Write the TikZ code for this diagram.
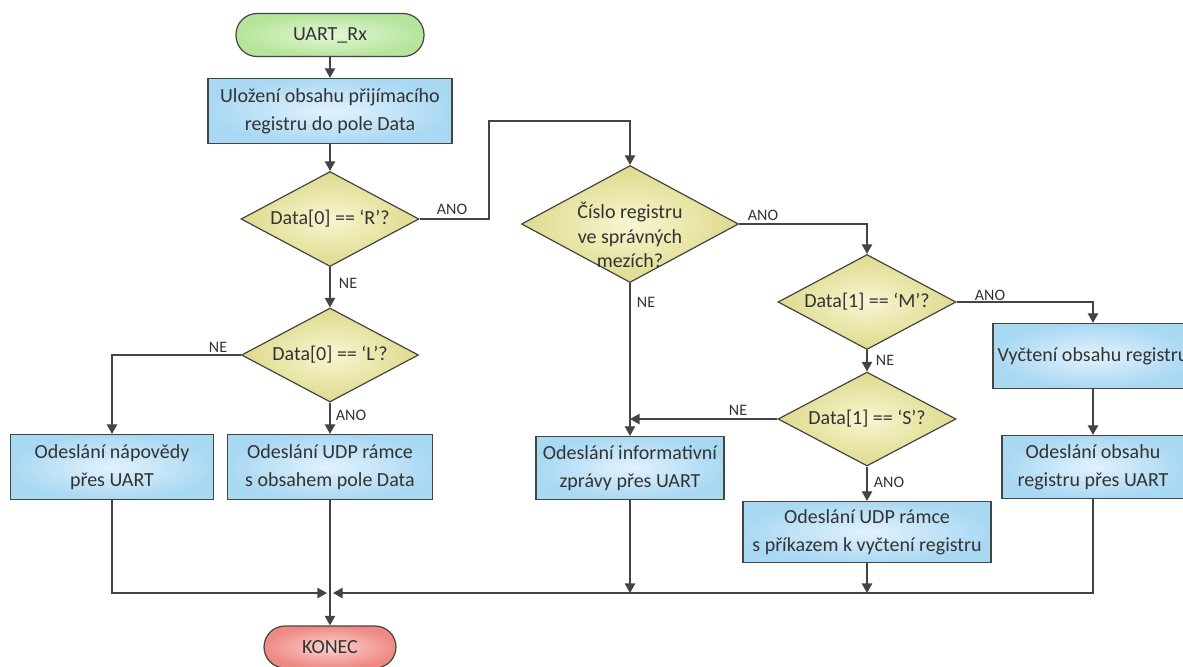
\documentclass[tikz,border=0pt]{standalone}
\usepackage{fontspec}
\setmainfont{Carlito}
\usetikzlibrary{shapes.geometric,arrows.meta}

\definecolor{ink}{HTML}{333333}
\definecolor{edge}{HTML}{444444}
\definecolor{blueIn}{HTML}{E2F2FC}
\definecolor{blueOut}{HTML}{A9D8F3}
\definecolor{yelIn}{HTML}{F8F6D2}
\definecolor{yelOut}{HTML}{DEDA8C}
\definecolor{grnIn}{HTML}{E4F7D6}
\definecolor{grnOut}{HTML}{B5E49A}
\definecolor{redIn}{HTML}{FBD3CF}
\definecolor{redOut}{HTML}{EF8984}

\tikzset{
  base/.style={draw=edge, line width=0.6pt, text=ink, align=center, inner sep=0pt,
               font=\fontsize{10}{14}\selectfont},
  procbox/.style={base, rectangle, shading=radial, inner color=blueIn, outer color=blueOut},
  decision/.style={base, diamond, aspect=1.85, shading=radial, inner color=yelIn, outer color=yelOut},
  terminal/.style={base, rectangle, rounded corners=10.5pt},
  flow/.style={draw=edge, line width=0.65pt, -{Triangle[length=4.8pt,width=5.2pt]}},
  lbl/.style={text=ink, inner sep=0pt, font=\fontsize{8}{9}\selectfont},
  plaintext/.style={text=ink, align=center, inner sep=0pt, font=\fontsize{10}{12.3}\selectfont},
}

\begin{document}
\begin{tikzpicture}[x=0.5pt, y=-0.5pt]
\useasboundingbox (0,0) rectangle (1183,666);

% terminals
\node[terminal, shading=radial, inner color=grnIn, outer color=grnOut,
      minimum width=94pt, minimum height=21.5pt] (start) at (330,35) {UART\_Rx};
\node[terminal, shading=radial, inner color=redIn, outer color=redOut,
      minimum width=66pt, minimum height=21pt] (konec) at (330,647) {KONEC};

% left column
\node[procbox, minimum width=122pt, minimum height=32.5pt] (store) at (330,111)
  {Uložení obsahu přijímacího\\registru do pole Data};
\node[decision, minimum width=89pt, minimum height=47.5pt] (isR) at (330,219) {Data[0] == ‘R’?};
\node[decision, minimum width=88.5pt, minimum height=47pt] (isL) at (330,355) {Data[0] == ‘L’?};
\node[procbox, minimum width=101.5pt, minimum height=32.5pt] (help) at (112,467)
  {Odeslání nápovědy\\přes UART};
\node[procbox, minimum width=102.5pt, minimum height=32.5pt] (udpData) at (330,467)
  {Odeslání UDP rámce\\s obsahem pole Data};

% middle column: the range test sits a little low in its diamond
\node[decision, minimum width=108.5pt, minimum height=58.5pt] (range) at (630,224) {};
\node[plaintext] (rangeText) at (630,235) {Číslo registru\\ve správných\\mezích?};
\node[procbox, minimum width=94pt, minimum height=31.5pt] (info) at (630,468)
  {Odeslání informativní\\zprávy přes UART};

% right columns
\node[decision, minimum width=89pt, minimum height=47.5pt] (isM) at (867,302) {Data[1] == ‘M’?};
\node[decision, minimum width=89pt, minimum height=47pt] (isS) at (867,419) {Data[1] == ‘S’?};
\node[procbox, minimum width=124pt, minimum height=30.5pt] (udpCmd) at (867,532)
  {Odeslání UDP rámce\\s příkazem k vyčtení registru};
\node[procbox, minimum width=100pt, minimum height=32.5pt] (readReg) at (1093,356)
  {Vyčtení obsahu registru};
\node[procbox, minimum width=91pt, minimum height=31.5pt] (sendReg) at (1093,467)
  {Odeslání obsahu\\registru přes UART};

% routing points
\coordinate (riseR) at (489,121);
\coordinate (joinS) at (630,419);
\coordinate (mergeL) at (327,593);
\coordinate (mergeR) at (333,593);
\coordinate (mergeInfo) at (630,593);
\coordinate (mergeCmd) at (867,593);

% connectors
\draw[flow] (start) -- (store);
\draw[flow] (store) -- (isR);
\draw[flow] (isR.east) -| (riseR) -| (range.north);
\draw[flow] (isR) -- (isL);
\draw[flow] (isL.west) -| (help.north);
\draw[flow] (isL) -- (udpData);
\draw[flow] (range.south) -- (info.north);
\draw[flow] (range.east) -| (isM.north);
\draw[flow] (isM.east) -| (readReg.north);
\draw[flow] (isM) -- (isS);
\draw[flow] (isS.west) -- (joinS);
\draw[flow] (isS) -- (udpCmd);
\draw[flow] (readReg) -- (sendReg);
\draw[flow] (help.south) |- (mergeL);
\draw[flow] (udpData) -- (konec);
\draw[flow] (sendReg.south) |- (mergeR);
\draw[flow] (info.south) -- (mergeInfo);
\draw[flow] (udpCmd.south) -- (mergeCmd);

% branch labels
\node[lbl] (tR) at (452,209) {ANO};
\node[lbl] (fR) at (348,283) {NE};
\node[lbl] (fL) at (218,347) {NE};
\node[lbl] (tL) at (351,415) {ANO};
\node[lbl] (fRange) at (646,302) {NE};
\node[lbl] (tRange) at (763,215) {ANO};
\node[lbl] (tM) at (990,295) {ANO};
\node[lbl] (fM) at (885,360) {NE};
\node[lbl] (fS) at (738,410) {NE};
\node[lbl] (tS) at (889,482) {ANO};
\end{tikzpicture}
\end{document}
